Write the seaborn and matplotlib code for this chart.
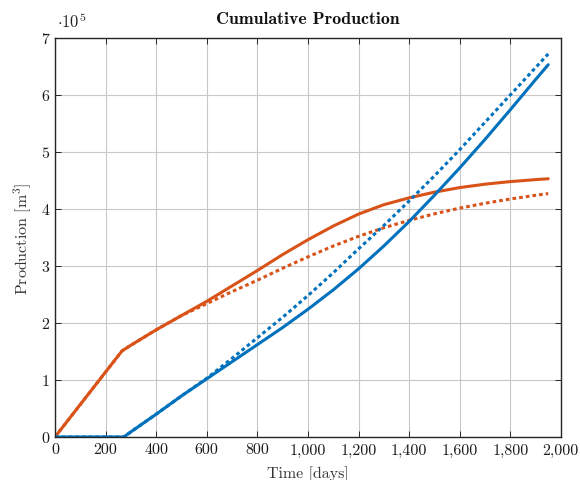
import matplotlib
matplotlib.use("Agg")
import matplotlib.pyplot as plt
import matplotlib.ticker as mticker
import seaborn as sns
import pandas as pd

# Data (days, m^3 in units of 1e5)
days = [0, 100, 200, 265, 300, 400, 500, 600, 700, 800, 900, 1000, 1100, 1200,
        1300, 1400, 1500, 1600, 1700, 1800, 1900, 1950]
orange_solid = [0, 0.57, 1.14, 1.51, 1.61, 1.88, 2.13, 2.38, 2.65, 2.92, 3.20, 3.46,
                3.70, 3.91, 4.075, 4.195, 4.295, 4.375, 4.435, 4.48, 4.515, 4.53]
orange_dotted = [0, 0.57, 1.14, 1.51, 1.61, 1.88, 2.13, 2.34, 2.55, 2.75, 2.96, 3.16,
                 3.35, 3.52, 3.67, 3.80, 3.915, 4.015, 4.10, 4.175, 4.24, 4.27]
days_blue = [0, 100, 200, 272, 300, 400, 500, 600, 700, 800, 900, 1000, 1100, 1200,
             1300, 1400, 1500, 1600, 1700, 1800, 1900, 1950]
blue_solid = [0, 0, 0, 0, 0.09, 0.40, 0.72, 1.02, 1.32, 1.62, 1.92, 2.24, 2.58, 2.95,
              3.35, 3.78, 4.24, 4.72, 5.22, 5.74, 6.27, 6.53]
blue_dotted = [0, 0, 0, 0, 0.09, 0.40, 0.72, 1.03, 1.38, 1.74, 2.10, 2.48, 2.88, 3.30,
               3.71, 4.14, 4.58, 5.04, 5.52, 6.00, 6.48, 6.72]
scale = 1e5

BLUE = "#0072BD"
ORANGE = "#D95319"

sns.set_style("whitegrid")
plt.rcParams["font.family"] = ["cmr10", "DejaVu Serif"]
plt.rcParams["mathtext.fontset"] = "cm"
plt.rcParams["axes.formatter.use_mathtext"] = True

fig = plt.figure(figsize=(5.8, 4.81), dpi=100)
ax = fig.add_axes([0.0948, 0.0894, 0.967 - 0.0948, 0.919 - 0.0894])

series = [
    (days, orange_solid, ORANGE, "-"),
    (days, orange_dotted, ORANGE, (0, (1.2, 1.0))),
    (days_blue, blue_solid, BLUE, "-"),
    (days_blue, blue_dotted, BLUE, (0, (1.2, 1.0))),
]
for xs, ys, c, ls in series:
    df = pd.DataFrame({"t": xs, "p": [v * scale for v in ys]})
    sns.lineplot(data=df, x="t", y="p", ax=ax, color=c, linewidth=2.2,
                 linestyle=ls, estimator=None, sort=False)

ax.set_xlim(0, 2000)
ax.set_ylim(0, 7e5)
ax.xaxis.set_major_locator(mticker.MultipleLocator(200))
ax.yaxis.set_major_locator(mticker.MultipleLocator(1e5))
ax.xaxis.set_major_formatter(mticker.FuncFormatter(lambda v, p: f"{v:,.0f}"))
ax.yaxis.set_major_formatter(mticker.FuncFormatter(lambda v, p: f"{v/scale:.0f}"))

ax.grid(True, color="#c8c8c8", linewidth=0.8)
for s in ax.spines.values():
    s.set_color("#262626")
    s.set_linewidth(1.0)
    s.set_visible(True)
ax.tick_params(direction="in", length=4, width=0.7, color="#262626",
               labelsize=11.5, top=True, right=True, bottom=True, left=True,
               pad=4, labelcolor="#1a1a1a")

ax.set_xlabel("Time [days]", fontsize=11.5, color="#333333", labelpad=6)
ax.set_ylabel(r"Production [m$^3$]", fontsize=11.5, color="#333333", labelpad=5)
ax.set_title("Cumulative Production", fontsize=12.8, fontfamily="cmb10",
             pad=11, color="#111111")
ax.text(0.003, 1.02, r"$\cdot 10^5$", transform=ax.transAxes, fontsize=12,
        ha="left", va="bottom")

fig.savefig("out.png", dpi=100)
